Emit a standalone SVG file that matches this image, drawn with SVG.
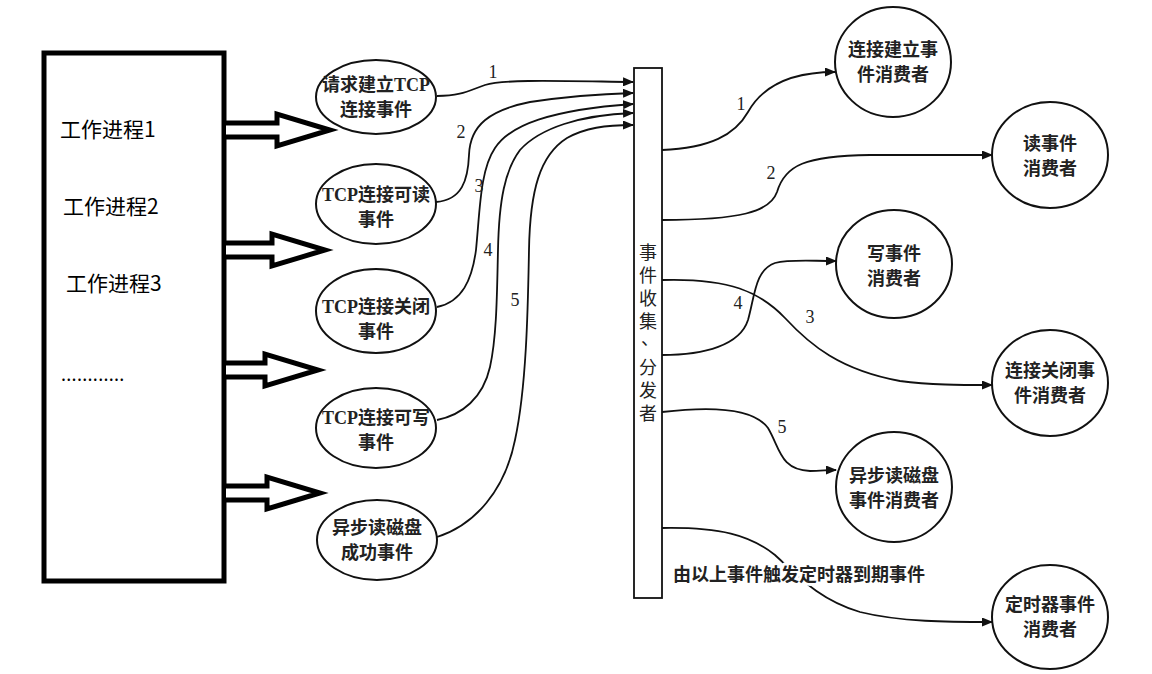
<svg xmlns="http://www.w3.org/2000/svg" width="1152" height="674" viewBox="0 0 1152 674">
<style>
.node{fill:#fff;stroke:#111;stroke-width:2}
.t{font-family:"Noto Sans CJK SC","Liberation Serif",serif;font-size:18px;fill:#222;text-anchor:middle;font-weight:bold}
.ts{font-family:"Liberation Serif","Noto Sans CJK SC",serif}
.w{font-family:"Noto Sans CJK SC",sans-serif;font-size:21px;fill:#000}
.n{font-family:"Liberation Serif",serif;font-size:18px;fill:#222;text-anchor:middle}
.c{fill:none;stroke:#111;stroke-width:1.8}
.big{fill:#fff;stroke:#000;stroke-width:5;stroke-linejoin:miter}
.bar{fill:#fff;stroke:#111;stroke-width:1.8}
.v{font-family:"Noto Sans CJK SC",sans-serif;font-size:18px;fill:#222;writing-mode:vertical-rl;letter-spacing:5px}
</style>
<defs>
<marker id="ah" markerUnits="userSpaceOnUse" markerWidth="11" markerHeight="9" refX="10" refY="4.5" orient="auto">
<path d="M0,0 L11,4.5 L0,9 z" fill="#111"/>
</marker>
</defs>
<rect width="1152" height="674" fill="#fff"/>

<g id="workers">
<rect x="44" y="53" width="180" height="528" fill="#fff" stroke="#000" stroke-width="5"/>
<text class="w" x="60" y="137">工作进程1</text>
<text class="w" x="63" y="214">工作进程2</text>
<text class="w" x="66" y="291">工作进程3</text>
<text class="w" x="61" y="381" style="font-size:18px;letter-spacing:0.3px">............</text>
</g>

<g id="big-arrows">
<path class="big" d="M226,123 L277,123 L277,114 L330,130 L277,146 L277,137 L226,137"/>
<path class="big" d="M226,243 L272,243 L272,234 L325,250 L272,266 L272,257 L226,257"/>
<path class="big" d="M226,363 L265,363 L265,354 L318,370 L265,386 L265,377 L226,377"/>
<path class="big" d="M226,486 L267,486 L267,477 L320,493 L267,509 L267,500 L226,500"/>
</g>

<g id="connectors">
<path class="c" marker-end="url(#ah)" d="M437,96 C462,96 470,90 485,85 C505,79 560,81 633,82"/>
<path class="c" marker-end="url(#ah)" d="M436,202 C462,200 468,180 469,155 C470,125 490,110 530,102 C570,96 600,94 633,93"/>
<path class="c" marker-end="url(#ah)" d="M437,307 C462,302 472,280 476,250 C480,210 480,170 495,148 C510,125 550,110 633,104"/>
<path class="c" marker-end="url(#ah)" d="M437,420 C462,415 483,398 490,367 C497,335 497,290 498,250 C499,200 505,170 520,150 C540,128 580,115 633,113"/>
<path class="c" marker-end="url(#ah)" d="M437,537 C475,525 505,490 515,440 C527,385 528,300 529,250 C530,190 540,155 567,138 C585,128 605,125 633,125"/>

<path class="c" marker-end="url(#ah)" d="M662,150 C710,148 735,135 748,112 C762,87 790,72 835,72"/>
<path class="c" marker-end="url(#ah)" d="M662,220 C740,220 770,212 777,192 C785,165 805,156 870,155 L992,155"/>
<path class="c" marker-end="url(#ah)" d="M662,280 C730,278 760,292 785,318 C810,345 840,370 900,381 C930,385 960,385 992,385"/>
<path class="c" marker-end="url(#ah)" d="M662,355 C705,355 740,345 748,320 C755,295 755,270 775,263 C790,259 810,261 836,261"/>
<path class="c" marker-end="url(#ah)" d="M662,412 C720,405 755,410 768,428 C780,448 780,470 810,471 C820,471 828,470 836,470"/>
<path class="c" marker-end="url(#ah)" d="M662,528 C720,527 750,535 775,555 C800,578 820,600 860,612 C900,622 950,622 992,622"/>

<text class="n" x="493" y="78">1</text>
<text class="n" x="461" y="138">2</text>
<text class="n" x="479" y="192">3</text>
<text class="n" x="488" y="256">4</text>
<text class="n" x="515" y="306">5</text>
<text class="n" x="741" y="110">1</text>
<text class="n" x="771" y="179">2</text>
<text class="n" x="810" y="323">3</text>
<text class="n" x="738" y="309">4</text>
<text class="n" x="782" y="433">5</text>
<text x="673" y="581" style="font-family:'Noto Sans CJK SC',sans-serif;font-size:18px;fill:#222;font-weight:bold;stroke:#fff;stroke-width:6;stroke-linejoin:round;paint-order:stroke">由以上事件触发定时器到期事件</text>
</g>

<g id="ev1"><ellipse class="node" cx="376" cy="97" rx="60" ry="37"/><text class="t" x="376" y="91">请求建立<tspan class="ts">TCP</tspan></text><text class="t" x="376" y="116">连接事件</text></g>
<g id="ev2"><ellipse class="node" cx="376" cy="204" rx="60" ry="40"/><text class="t" x="376" y="201"><tspan class="ts">TCP</tspan>连接可读</text><text class="t" x="376" y="226">事件</text></g>
<g id="ev3"><ellipse class="node" cx="376" cy="311" rx="60" ry="42"/><text class="t" x="376" y="313"><tspan class="ts">TCP</tspan>连接关闭</text><text class="t" x="376" y="338">事件</text></g>
<g id="ev4"><ellipse class="node" cx="376" cy="428" rx="60" ry="40"/><text class="t" x="376" y="424"><tspan class="ts">TCP</tspan>连接可写</text><text class="t" x="376" y="449">事件</text></g>
<g id="ev5"><ellipse class="node" cx="377" cy="540" rx="60" ry="40"/><text class="t" x="377" y="534">异步读磁盘</text><text class="t" x="377" y="559">成功事件</text></g>

<g id="dispatcher">
<rect class="bar" x="634" y="68" width="28" height="530"/>
<text class="v" x="648" y="243">事件收集<tspan dx="-9" dy="5">、</tspan><tspan dx="9" dy="-5">分发者</tspan></text>
</g>

<g id="c1"><ellipse class="node" cx="893" cy="62" rx="58" ry="55"/><text class="t" x="893" y="56">连接建立事</text><text class="t" x="893" y="81">件消费者</text></g>
<g id="c2"><ellipse class="node" cx="1050" cy="155" rx="58" ry="53"/><text class="t" x="1050" y="150">读事件</text><text class="t" x="1050" y="175">消费者</text></g>
<g id="c3"><ellipse class="node" cx="894" cy="264" rx="58" ry="54"/><text class="t" x="894" y="260">写事件</text><text class="t" x="894" y="285">消费者</text></g>
<g id="c4"><ellipse class="node" cx="1050" cy="383" rx="58" ry="53"/><text class="t" x="1050" y="377">连接关闭事</text><text class="t" x="1050" y="402">件消费者</text></g>
<g id="c5"><ellipse class="node" cx="894" cy="487" rx="58" ry="55"/><text class="t" x="894" y="482">异步读磁盘</text><text class="t" x="894" y="507">事件消费者</text></g>
<g id="c6"><ellipse class="node" cx="1050" cy="617" rx="58" ry="52"/><text class="t" x="1050" y="611">定时器事件</text><text class="t" x="1050" y="636">消费者</text></g>
</svg>
